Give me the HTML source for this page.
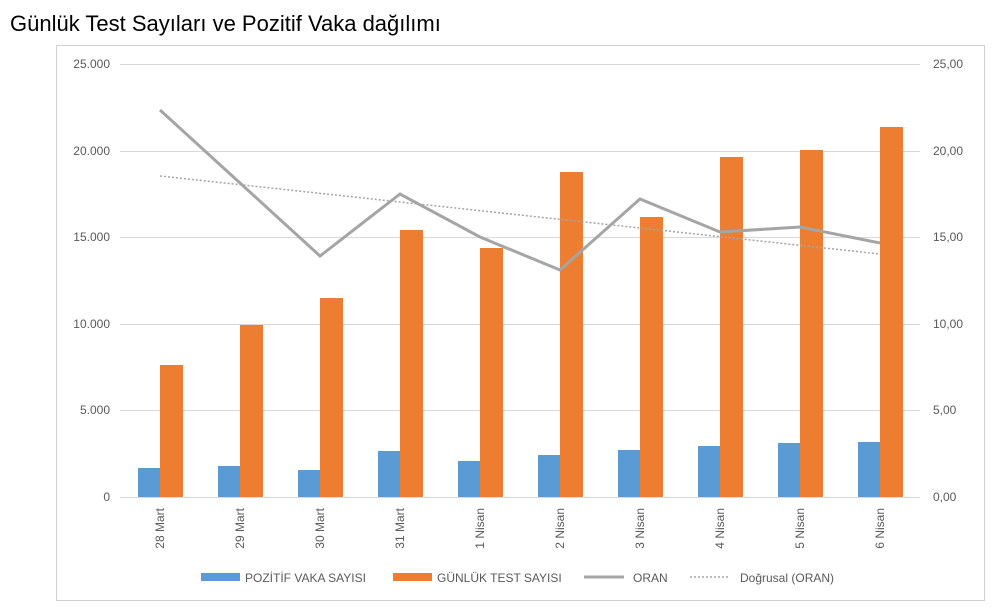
<!DOCTYPE html>
<html><head><meta charset="utf-8"><style>
html,body{margin:0;padding:0;background:#fff;width:1000px;height:611px;overflow:hidden}
svg{font-family:"Liberation Sans",sans-serif}
</style></head><body>
<svg width="1000" height="611" viewBox="0 0 1000 611" xmlns="http://www.w3.org/2000/svg">
<text x="10" y="31" font-size="22" fill="#000">Günlük Test Sayıları ve Pozitif Vaka dağılımı</text>
<rect x="56.5" y="45.5" width="928" height="555" fill="none" stroke="#d0d0d0"/>
<g stroke="#d9d9d9" stroke-width="1">
<line x1="120" x2="920" y1="64.5" y2="64.5"/><line x1="120" x2="920" y1="151.5" y2="151.5"/>
<line x1="120" x2="920" y1="237.5" y2="237.5"/><line x1="120" x2="920" y1="324.5" y2="324.5"/>
<line x1="120" x2="920" y1="410.5" y2="410.5"/><line x1="120" x2="920" y1="497.5" y2="497.5"/>
</g>
<g font-size="12" fill="#595959" text-anchor="end">
<text x="110" y="68">25.000</text><text x="110" y="155">20.000</text><text x="110" y="241">15.000</text>
<text x="110" y="328">10.000</text><text x="110" y="414">5.000</text><text x="110" y="501">0</text>
</g>
<g font-size="12" fill="#595959">
<text x="933" y="68">25,00</text><text x="933" y="155">20,00</text><text x="933" y="241">15,00</text>
<text x="933" y="328">10,00</text><text x="933" y="414">5,00</text><text x="933" y="501">0,00</text>
</g>
<g fill="#5b9bd5">
<rect x="138" y="468" width="22" height="29"/><rect x="218" y="466" width="22" height="31"/>
<rect x="298" y="470" width="22" height="27"/><rect x="378" y="451" width="22" height="46"/>
<rect x="458" y="461" width="22" height="36"/><rect x="538" y="455" width="22" height="42"/>
<rect x="618" y="450" width="22" height="47"/><rect x="698" y="446" width="22" height="51"/>
<rect x="778" y="443" width="22" height="54"/><rect x="858" y="442" width="22" height="55"/>
</g>
<g fill="#ed7d31">
<rect x="160" y="365" width="23" height="132"/><rect x="240" y="325" width="23" height="172"/>
<rect x="320" y="298" width="23" height="199"/><rect x="400" y="230" width="23" height="267"/>
<rect x="480" y="248" width="23" height="249"/><rect x="560" y="172" width="23" height="325"/>
<rect x="640" y="217" width="23" height="280"/><rect x="720" y="157" width="23" height="340"/>
<rect x="800" y="150" width="23" height="347"/><rect x="880" y="127" width="23" height="370"/>
</g>
<polyline points="160,110 240,183 320,256 400,194 480,237 560,270 640,199 720,232 800,227 880,243" fill="none" stroke="#a5a5a5" stroke-width="3"/>
<line x1="160" y1="176" x2="880" y2="254" stroke="#a5a5a5" stroke-width="1.5" stroke-dasharray="2,2"/>
<g font-size="12" fill="#595959" text-anchor="end">
<text transform="translate(164,508) rotate(-90)">28 Mart</text>
<text transform="translate(244,508) rotate(-90)">29 Mart</text>
<text transform="translate(324,508) rotate(-90)">30 Mart</text>
<text transform="translate(404,508) rotate(-90)">31 Mart</text>
<text transform="translate(484,508) rotate(-90)">1 Nisan</text>
<text transform="translate(564,508) rotate(-90)">2 Nisan</text>
<text transform="translate(644,508) rotate(-90)">3 Nisan</text>
<text transform="translate(724,508) rotate(-90)">4 Nisan</text>
<text transform="translate(804,508) rotate(-90)">5 Nisan</text>
<text transform="translate(884,508) rotate(-90)">6 Nisan</text>
</g>
<g font-size="12" fill="#595959">
<rect x="201" y="573" width="39" height="8" fill="#5b9bd5"/><text x="245" y="582">POZİTİF VAKA SAYISI</text>
<rect x="393" y="573" width="39" height="8" fill="#ed7d31"/><text x="437" y="582">GÜNLÜK TEST SAYISI</text>
<line x1="584" y1="577" x2="624" y2="577" stroke="#a5a5a5" stroke-width="3"/><text x="633" y="582">ORAN</text>
<line x1="690" y1="577" x2="730" y2="577" stroke="#a5a5a5" stroke-width="1.5" stroke-dasharray="2,2"/><text x="740" y="582">Doğrusal (ORAN)</text>
</g>
</svg>
</body></html>
